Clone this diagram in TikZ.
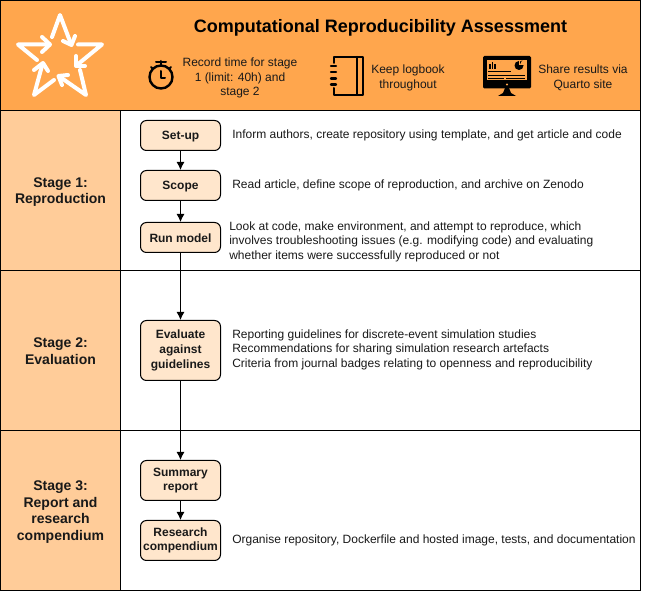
\documentclass[tikz,border=0pt]{standalone}
\usepackage{fontspec}
\setmainfont{Liberation Sans}
\definecolor{headfill}{HTML}{FFA64D}
\definecolor{stagefill}{HTML}{FFCC99}
\definecolor{boxfill}{HTML}{FFE6CC}
\tikzset{
  px/.style={x=0.75pt,y=-0.75pt},
  frame/.style={draw=black,line width=0.75pt},
  stagelabel/.style={font=\fontsize{10.5}{12.6}\selectfont\bfseries,align=center,text=black!90},
  stepbox/.style={draw=black,fill=boxfill,rounded corners=4.5pt,line width=0.75pt,minimum width=60pt,inner sep=0pt,align=center,font=\fontsize{9}{11.1}\selectfont\bfseries,text=black!90,execute at begin node={\rule{0pt}{8pt}}},
  desc/.style={anchor=west,inner sep=0pt,align=left,font=\fontsize{9}{10.9}\selectfont,text=black!90},
  headtext/.style={inner sep=0pt,align=center,font=\fontsize{9}{10.9}\selectfont,text=black!90},
  flow/.style={draw=black,line width=0.75pt,-{Latex[length=6pt,width=6pt]}},
  plain/.style={draw=black,line width=0.75pt},
  stararrow/.style={draw=white,line width=3pt,line cap=round,line join=round},
  starhead/.style={draw=white,line width=3pt,line cap=round,line join=round},
  icon/.style={draw=black,line width=1.5pt,line cap=round,line join=round}
}
\usetikzlibrary{arrows.meta}
\begin{document}
\begin{tikzpicture}[px]
\useasboundingbox (0,0) rectangle (651,591);
% panels
\path[fill=white] (0,0) rectangle (651,591);
\path[fill=headfill,frame] (0.5,0.5) rectangle (640.5,110.5);
\path[fill=white,frame] (120.5,110.5) rectangle (640.5,270.5);
\path[fill=white,frame] (120.5,270.5) rectangle (640.5,430.5);
\path[fill=white,frame] (120.5,430.5) rectangle (640.5,590.5);
\path[fill=stagefill,frame] (0.5,110.5) rectangle (120.5,270.5);
\path[fill=stagefill,frame] (0.5,270.5) rectangle (120.5,430.5);
\path[fill=stagefill,frame] (0.5,430.5) rectangle (120.5,590.5);
% star logo
\draw[stararrow] (52,37) -- (60,15) -- (71,44);
\draw[starhead] (63,41) -- (71.5,45) -- (75,36);
\draw[stararrow] (78,44.5) -- (102,44.5) -- (77,65);
\draw[starhead] (76,56) -- (76,66) -- (85,66);
\draw[stararrow] (80,70) -- (86,95) -- (60,77);
\draw[starhead] (68,75) -- (58.5,76) -- (62,85);
\draw[stararrow] (54,80) -- (34,95) -- (42.5,64);
\draw[starhead] (34,70) -- (43,63) -- (48,71);
\draw[stararrow] (37,60) -- (18,44.5) -- (49,44.5);
\draw[starhead] (42,37) -- (50,44.5) -- (42,52);
% texts in header
\node[inner sep=0pt,font=\fontsize{13.5}{16}\selectfont\bfseries,text=black] (title) at (380.5,28) {Computational Reproducibility Assessment};
\node[headtext] (record) at (240,78) {Record time for stage\\1 (limit: 40h) and\\stage 2};
\node[headtext] (logbook) at (408,78) {Keep logbook\\throughout};
\node[headtext] (share) at (583,78) {Share results via\\Quarto site};
% stopwatch
\draw[icon,line width=1.8pt] (161,77) circle (11.5);
\draw[icon] (161,71) -- (161,78) -- (165,78);
\draw[icon] (161,61) -- (161,65);
\draw[icon] (156,62) -- (166,62);
\draw[icon] (151,67) -- (153,69);
\draw[icon] (171,67) -- (169,69);
% notebook
\draw[icon] (333.5,63) -- (333.5,57) -- (363,57) -- (363,95) -- (333.5,95) -- (333.5,88);
\draw[icon] (357,57) -- (357,95);
\foreach \yy in {66,72,78.5,84.5} \draw[icon,line width=1.8pt] (331,\yy) -- (336,\yy);
% monitor
\fill[black,rounded corners=1pt] (483,56) rectangle (531,88.5);
\fill[headfill] (487,60) rectangle (527,80.5);
\fill[headfill] (507,84.5) circle (1.2);
\fill[black] (505,88) -- (509,88) -- (511,93) -- (516,96) -- (498,96) -- (503,93) -- cycle;
\fill[black] (489,64.5) rectangle (490.5,69);
\fill[black] (491.5,62) rectangle (493,69);
\fill[black] (494,64) rectangle (495.5,69);
\draw[black,line width=0.7pt] (488,71.5) -- (511,71.5);
\fill[black] (519,65.5) circle (4.5);
\fill[headfill] (519,65.5) -- (519,60.5) -- (524,60.5) -- (524,65.5) -- cycle;
\fill[black] (520,64.5) -- (520,61.5) arc (90:0:3) -- cycle;
\draw[black,line width=0.8pt] (488,75.5) -- (525,75.5);
\draw[black,line width=0.8pt] (488,78.5) -- (504,78.5) (506,78.5) -- (525,78.5);
% stage labels
\node[stagelabel] (s1) at (60.5,192) {Stage 1:\\Reproduction};
\node[stagelabel] (s2) at (60.5,351) {Stage 2:\\Evaluation};
\node[stagelabel] (s3) at (60.5,512) {Stage 3:\\Report and\\research\\compendium};
% step boxes
\node[stepbox,minimum height=22.5pt] (setup) at (180.5,135.5) {Set-up};
\node[stepbox,minimum height=22.5pt] (scope) at (180.5,185.5) {Scope};
\node[stepbox,minimum height=22.5pt] (run) at (180.5,237.5) {Run model};
\node[stepbox,minimum height=45pt] (eval) at (180.5,350.5) {Evaluate\\against\\guidelines};
\node[stepbox,minimum height=30pt] (summary) at (180.5,480.5) {Summary\\report};
\node[stepbox,minimum height=30pt] (compend) at (180.5,540.5) {Research\\compendium};
% connectors
\draw[flow] (setup) -- (scope);
\draw[flow] (scope) -- (run);
\draw[flow] (run) -- (eval);
\draw[flow] (eval) -- (summary);
\draw[flow] (summary) -- (compend);
% descriptions
\node[desc] (d1) at (232,135) {Inform authors, create repository using template, and get article and code};
\node[desc] (d2) at (232,185) {Read article, define scope of reproduction, and archive on Zenodo};
\node[desc] (d3) at (229,241.5) {Look at code, make environment, and attempt to reproduce, which\\involves troubleshooting issues (e.g. modifying code) and evaluating\\whether items were successfully reproduced or not};
\node[desc] (d4) at (232,349.5) {Reporting guidelines for discrete-event simulation studies\\Recommendations for sharing simulation research artefacts\\Criteria from journal badges relating to openness and reproducibility};
\node[desc] (d5) at (232,540) {Organise repository, Dockerfile and hosted image, tests, and documentation};
\end{tikzpicture}
\end{document}
